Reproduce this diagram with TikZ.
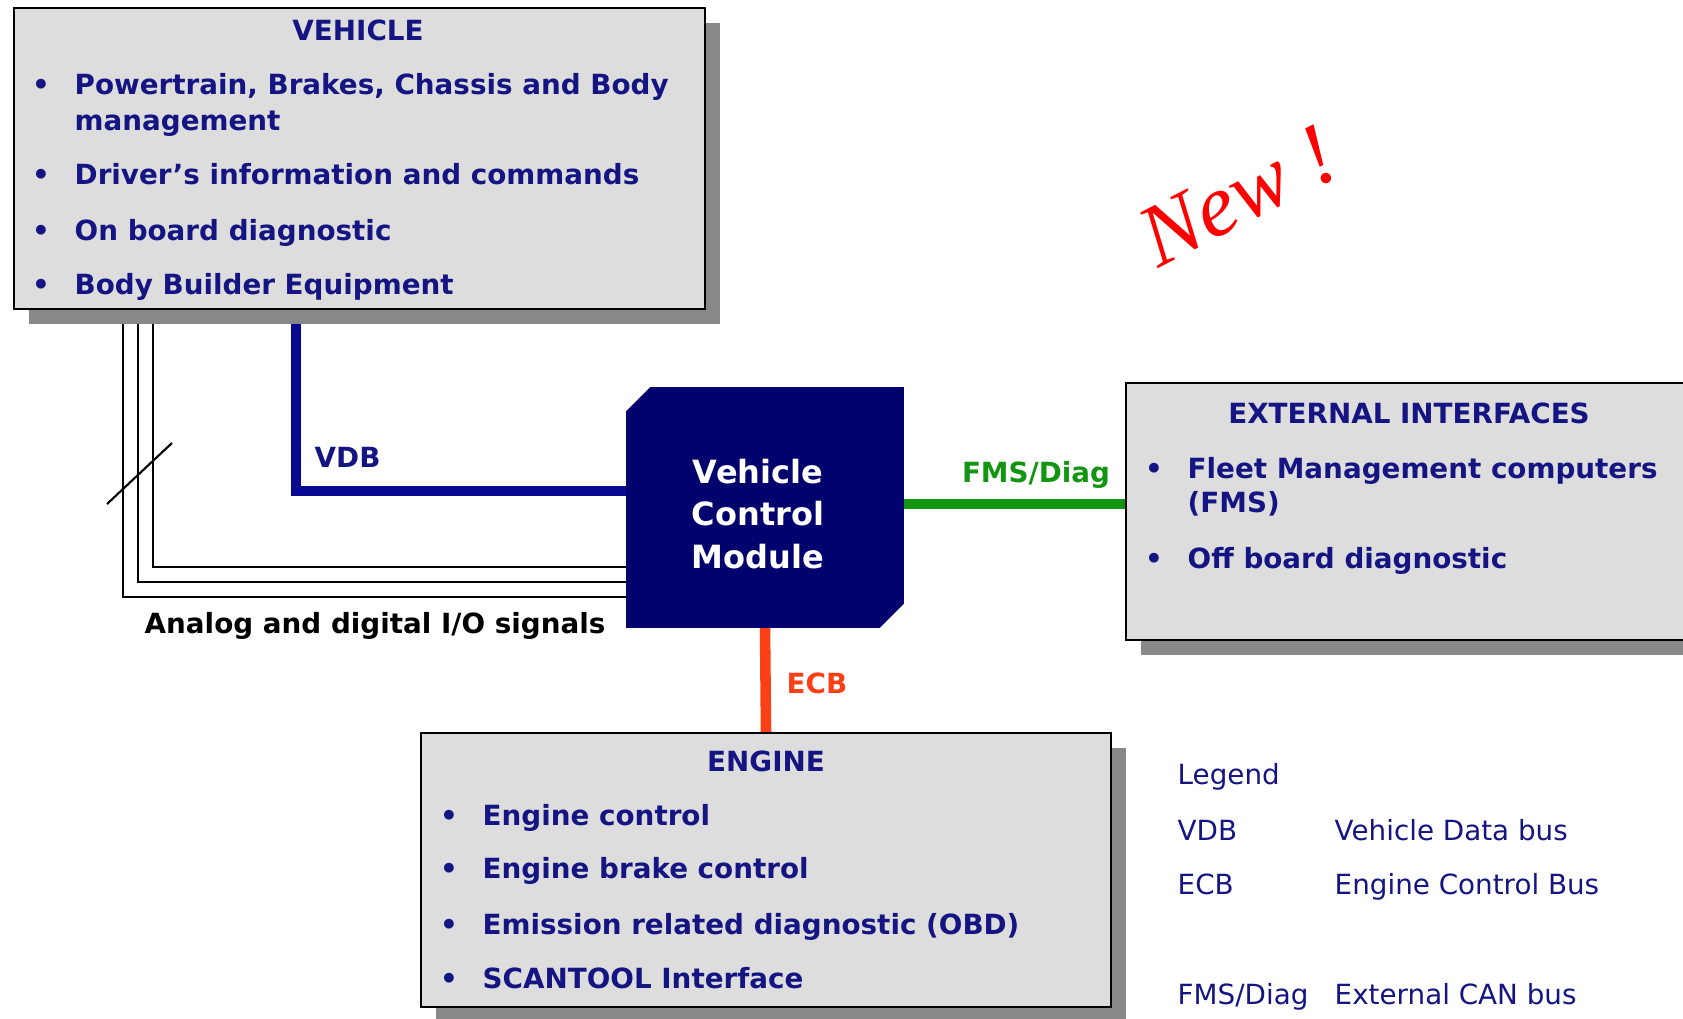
\documentclass[tikz,border=0pt]{standalone}
\usepackage{fontspec}
\setmainfont{DejaVu Sans}
\newfontfamily\serifnew{Liberation Serif}
\usepackage{xcolor}
\usetikzlibrary{shapes.misc}
\usetikzlibrary{shadows}
\usetikzlibrary{backgrounds}

\definecolor{navytxt}{RGB}{20,20,130}
\definecolor{boxgrey}{RGB}{221,221,221}
\definecolor{shadowgrey}{RGB}{136,136,136}
\definecolor{vcmblue}{RGB}{2,2,110}
\definecolor{vdbblue}{RGB}{8,8,145}
\definecolor{fmsgreen}{RGB}{18,150,18}
\definecolor{ecbred}{RGB}{250,64,20}

\begin{document}
\begin{tikzpicture}[x=0.01cm,y=-0.01cm,
  greybox/.style={draw=black,line width=0.6pt,fill=boxgrey,
    drop shadow={shadow xshift=0.15cm,shadow yshift=-0.15cm,fill=shadowgrey,opacity=1}},
  vcmbox/.style={shape=chamfered rectangle,chamfered rectangle corners={north west,south east},
    chamfered rectangle xsep=0.14cm,fill=vcmblue,draw=vcmblue,
    minimum width=2.76cm,minimum height=2.39cm},
  vcmtxt/.style={text=white,align=center,inner sep=0pt,
    font=\fontsize{9.1}{12.2}\selectfont\bfseries},
  boxtxt/.style={inner sep=0pt,anchor=base west,text=navytxt,font=\fontsize{7.9}{9.5}\selectfont\bfseries},
  boxhead/.style={boxtxt,anchor=base},
  legtxt/.style={inner sep=0pt,anchor=base west,text=navytxt,font=\fontsize{7.9}{9.5}\selectfont},
  buslabel/.style={inner sep=0pt,anchor=base west,font=\fontsize{7.9}{9.5}\selectfont\bfseries},
  vdbbus/.style={draw=vdbblue,line width=3pt},
  fmsbus/.style={draw=fmsgreen,line width=3pt},
  ecbbus/.style={draw=ecbred,line width=3pt},
  iowire/.style={draw=black,line width=0.6pt},
  ]
\useasboundingbox (0,0) rectangle (1683,1018);

% boxes
\node[greybox,minimum width=6.91cm,minimum height=3.01cm] (vehicle) at (359.5,158.5) {};
\node[greybox,minimum width=5.80cm,minimum height=2.57cm] (ext) at (1416,511.5) {};
\node[greybox,minimum width=6.90cm,minimum height=2.74cm] (engine) at (766,870) {};
\node[vcmbox] (vcm) at (765,507.5) {};
\node[vcmtxt] (vcmtext) at (758,514) {Vehicle\\Control\\Module};

% buses and wires
\begin{pgfonlayer}{background}
\draw[vdbbus] (vehicle.south -| 296,0) |- (vcm.west |- 0,491);
\draw[iowire] (vehicle.south -| 153,0) |- (vcm.west |- 0,567);
\draw[iowire] (vehicle.south -| 138,0) |- (vcm.west |- 0,582);
\draw[iowire] (vehicle.south -| 123,0) |- (vcm.west |- 0,597);
\draw[fmsbus] (vcm.east |- 0,504) -- (ext.west |- 0,504);
\draw[ecbbus] (vcm.south) -- (engine.north);
\end{pgfonlayer}
\draw[iowire] (107,504) -- (172,443);

% vehicle
\node[boxhead] (vehtitle) at (358,41) {VEHICLE};
\node[boxtxt,anchor=base] (vb1) at (41,94) {•};
\node[boxtxt] (vt1) at (74,94) {Powertrain, Brakes, Chassis and Body};
\node[boxtxt] (vt1b) at (74,130) {management};
\node[boxtxt,anchor=base] (vb2) at (41,184) {•};
\node[boxtxt] (vt2) at (74,184) {Driver’s information and commands};
\node[boxtxt,anchor=base] (vb3) at (41,240) {•};
\node[boxtxt] (vt3) at (74,240) {On board diagnostic};
\node[boxtxt,anchor=base] (vb4) at (41,294) {•};
\node[boxtxt] (vt4) at (74,294) {Body Builder Equipment};

% external interfaces
\node[boxhead] (exttitle) at (1409,423) {EXTERNAL INTERFACES};
\node[boxtxt,anchor=base] (eb1) at (1154,478) {•};
\node[boxtxt] (et1) at (1187,478) {Fleet Management computers};
\node[boxtxt] (et1b) at (1187,512) {(FMS)};
\node[boxtxt,anchor=base] (eb2) at (1154,568) {•};
\node[boxtxt] (et2) at (1187,568) {Off board diagnostic};

% engine
\node[boxhead] (engtitle) at (766,771) {ENGINE};
\node[boxtxt,anchor=base] (gb1) at (449,825) {•};
\node[boxtxt] (gt1) at (482,825) {Engine control};
\node[boxtxt,anchor=base] (gb2) at (449,878) {•};
\node[boxtxt] (gt2) at (482,878) {Engine brake control};
\node[boxtxt,anchor=base] (gb3) at (449,934) {•};
\node[boxtxt] (gt3) at (482,934) {Emission related diagnostic (OBD)};
\node[boxtxt,anchor=base] (gb4) at (449,988) {•};
\node[boxtxt] (gt4) at (482,988) {SCANTOOL Interface};

% bus labels
\node[buslabel,text=navytxt] (vdblabel) at (314,467) {VDB};
\node[buslabel,text=fmsgreen,anchor=base] (fmslabel) at (1036,482) {FMS/Diag};
\node[buslabel,text=ecbred] (ecblabel) at (786,693) {ECB};
\node[buslabel,text=black] (iolabel) at (144,633) {Analog and digital I/O signals};

% legend
\node[legtxt] (legtitle) at (1177,784) {Legend};
\node[legtxt] (legvdb) at (1177,840) {VDB};
\node[legtxt] (legvdbtxt) at (1334,840) {Vehicle Data bus};
\node[legtxt] (legecb) at (1177,894) {ECB};
\node[legtxt] (legecbtxt) at (1334,894) {Engine Control Bus};
\node[legtxt] (legfms) at (1177,1004) {FMS/Diag};
\node[legtxt] (legfmstxt) at (1334,1004) {External CAN bus};

\node[rotate=27,text=red,inner sep=0pt,font=\serifnew\itshape\fontsize{25}{25}\selectfont] (newtag) at (1238,196) {New !};
\end{tikzpicture}
\end{document}
